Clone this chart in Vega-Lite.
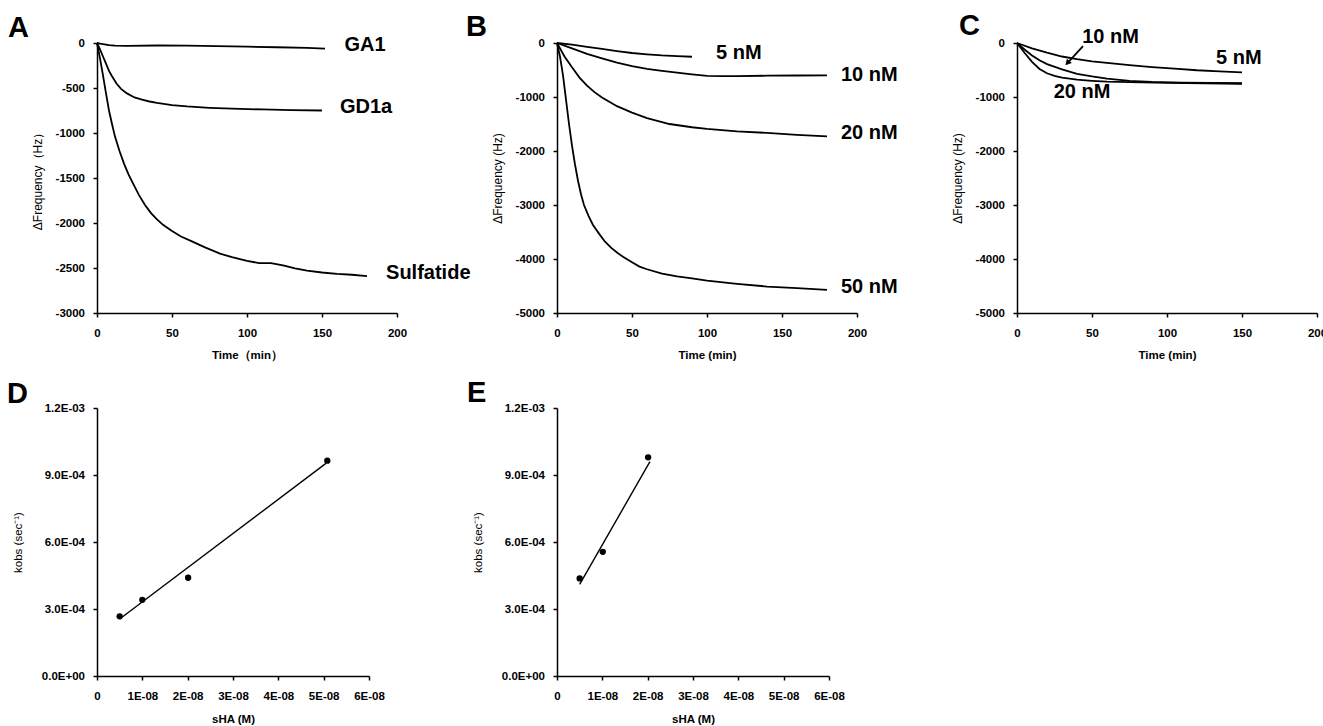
{
  "$schema": "https://vega.github.io/schema/vega-lite/v6.json",
  "background": "white",
  "padding": {"left": 7, "top": 12, "right": 0, "bottom": 0},
  "config": {
    "view": {"stroke": null},
    "font": "Liberation Sans",
    "axis": {"grid": false, "domainColor": "black", "domainWidth": 1.5, "tickColor": "black", "tickWidth": 1.5, "tickSize": 4, "labelFont": "Liberation Sans", "labelFontSize": 11.5, "labelFontWeight": "bold", "labelColor": "black", "titleFont": "Liberation Sans", "titleColor": "black"},
    "axisX": {"labelPadding": 10.5, "titlePadding": 10, "titleFontSize": 11.5, "titleFontWeight": "bold", "labelAngle": 0, "labelFlush": false},
    "axisY": {"labelPadding": 8.5, "titleFontSize": 12, "titleFontWeight": "normal"},
    "title": {"anchor": "start", "frame": "group", "baseline": "alphabetic", "fontSize": 29, "fontWeight": "bold", "font": "Liberation Sans", "color": "black"}
  },
  "datasets": {
    "curvesA": [
      {"s":"GA1","t":0,"v":0},{"s":"GA1","t":2,"v":-6},{"s":"GA1","t":5,"v":-15},{"s":"GA1","t":8,"v":-24},{"s":"GA1","t":12,"v":-30},{"s":"GA1","t":20,"v":-31},{"s":"GA1","t":40,"v":-28},{"s":"GA1","t":60,"v":-29},{"s":"GA1","t":80,"v":-34},{"s":"GA1","t":100,"v":-41},{"s":"GA1","t":120,"v":-47},{"s":"GA1","t":140,"v":-54},{"s":"GA1","t":152,"v":-62},
      {"s":"GD1a","t":0,"v":0},{"s":"GD1a","t":2,"v":-70},{"s":"GD1a","t":4,"v":-150},{"s":"GD1a","t":6,"v":-230},{"s":"GD1a","t":8,"v":-310},{"s":"GD1a","t":10,"v":-370},{"s":"GD1a","t":13,"v":-450},{"s":"GD1a","t":16,"v":-510},{"s":"GD1a","t":20,"v":-560},{"s":"GD1a","t":25,"v":-605},{"s":"GD1a","t":30,"v":-630},{"s":"GD1a","t":35,"v":-650},{"s":"GD1a","t":40,"v":-665},{"s":"GD1a","t":50,"v":-690},{"s":"GD1a","t":60,"v":-705},{"s":"GD1a","t":75,"v":-720},{"s":"GD1a","t":90,"v":-730},{"s":"GD1a","t":110,"v":-738},{"s":"GD1a","t":130,"v":-745},{"s":"GD1a","t":150,"v":-750},
      {"s":"Sulfatide","t":0,"v":0},{"s":"Sulfatide","t":2,"v":-170},{"s":"Sulfatide","t":4,"v":-360},{"s":"Sulfatide","t":6,"v":-560},{"s":"Sulfatide","t":8,"v":-750},{"s":"Sulfatide","t":10,"v":-900},{"s":"Sulfatide","t":12,"v":-1040},{"s":"Sulfatide","t":15,"v":-1200},{"s":"Sulfatide","t":18,"v":-1340},{"s":"Sulfatide","t":21,"v":-1460},{"s":"Sulfatide","t":24,"v":-1560},{"s":"Sulfatide","t":28,"v":-1690},{"s":"Sulfatide","t":32,"v":-1800},{"s":"Sulfatide","t":36,"v":-1890},{"s":"Sulfatide","t":40,"v":-1960},{"s":"Sulfatide","t":44,"v":-2020},{"s":"Sulfatide","t":50,"v":-2090},{"s":"Sulfatide","t":56,"v":-2150},{"s":"Sulfatide","t":64,"v":-2210},{"s":"Sulfatide","t":72,"v":-2270},{"s":"Sulfatide","t":82,"v":-2340},{"s":"Sulfatide","t":90,"v":-2380},{"s":"Sulfatide","t":100,"v":-2420},{"s":"Sulfatide","t":108,"v":-2445},{"s":"Sulfatide","t":116,"v":-2445},{"s":"Sulfatide","t":124,"v":-2470},{"s":"Sulfatide","t":132,"v":-2505},{"s":"Sulfatide","t":140,"v":-2530},{"s":"Sulfatide","t":150,"v":-2550},{"s":"Sulfatide","t":160,"v":-2565},{"s":"Sulfatide","t":170,"v":-2575},{"s":"Sulfatide","t":180,"v":-2590}
    ],
    "labelsA": [
      {"label":"GA1","t":165,"v":-26},
      {"label":"GD1a","t":162,"v":-711},
      {"label":"Sulfatide","t":192.7,"v":-2552}
    ],
    "curvesB": [
      {"s":"5","t":0,"v":0},{"s":"5","t":10,"v":-30},{"s":"5","t":20,"v":-70},{"s":"5","t":30,"v":-110},{"s":"5","t":40,"v":-150},{"s":"5","t":50,"v":-185},{"s":"5","t":60,"v":-210},{"s":"5","t":70,"v":-230},{"s":"5","t":80,"v":-242},{"s":"5","t":90,"v":-255},
      {"s":"10","t":0,"v":0},{"s":"10","t":10,"v":-100},{"s":"10","t":20,"v":-200},{"s":"10","t":30,"v":-285},{"s":"10","t":40,"v":-365},{"s":"10","t":50,"v":-430},{"s":"10","t":60,"v":-480},{"s":"10","t":70,"v":-515},{"s":"10","t":80,"v":-550},{"s":"10","t":90,"v":-580},{"s":"10","t":100,"v":-610},{"s":"10","t":110,"v":-615},{"s":"10","t":120,"v":-612},{"s":"10","t":140,"v":-606},{"s":"10","t":160,"v":-602},{"s":"10","t":180,"v":-600},
      {"s":"20","t":0,"v":0},{"s":"20","t":5,"v":-250},{"s":"20","t":10,"v":-450},{"s":"20","t":15,"v":-640},{"s":"20","t":20,"v":-790},{"s":"20","t":25,"v":-910},{"s":"20","t":30,"v":-1010},{"s":"20","t":40,"v":-1170},{"s":"20","t":50,"v":-1290},{"s":"20","t":60,"v":-1390},{"s":"20","t":75,"v":-1500},{"s":"20","t":90,"v":-1560},{"s":"20","t":100,"v":-1590},{"s":"20","t":120,"v":-1635},{"s":"20","t":140,"v":-1665},{"s":"20","t":160,"v":-1700},{"s":"20","t":180,"v":-1730},
      {"s":"50","t":0,"v":0},{"s":"50","t":2,"v":-250},{"s":"50","t":4,"v":-600},{"s":"50","t":6,"v":-1050},{"s":"50","t":8,"v":-1500},{"s":"50","t":10,"v":-1900},{"s":"50","t":12,"v":-2250},{"s":"50","t":14,"v":-2550},{"s":"50","t":16,"v":-2800},{"s":"50","t":18,"v":-3000},{"s":"50","t":21,"v":-3200},{"s":"50","t":24,"v":-3370},{"s":"50","t":28,"v":-3530},{"s":"50","t":32,"v":-3680},{"s":"50","t":36,"v":-3790},{"s":"50","t":40,"v":-3880},{"s":"50","t":44,"v":-3960},{"s":"50","t":50,"v":-4060},{"s":"50","t":55,"v":-4140},{"s":"50","t":60,"v":-4190},{"s":"50","t":70,"v":-4270},{"s":"50","t":80,"v":-4320},{"s":"50","t":90,"v":-4360},{"s":"50","t":100,"v":-4400},{"s":"50","t":120,"v":-4460},{"s":"50","t":140,"v":-4510},{"s":"50","t":160,"v":-4540},{"s":"50","t":180,"v":-4570}
    ],
    "labelsB": [
      {"label":"5 nM","t":106,"v":-180},
      {"label":"10 nM","t":189.3,"v":-593},
      {"label":"20 nM","t":189.3,"v":-1672},
      {"label":"50 nM","t":189.3,"v":-4519}
    ],
    "curvesC": [
      {"s":"5","t":0,"v":0},{"s":"5","t":10,"v":-100},{"s":"5","t":20,"v":-180},{"s":"5","t":30,"v":-250},{"s":"5","t":40,"v":-300},{"s":"5","t":50,"v":-340},{"s":"5","t":60,"v":-370},{"s":"5","t":75,"v":-410},{"s":"5","t":90,"v":-445},{"s":"5","t":105,"v":-475},{"s":"5","t":120,"v":-505},{"s":"5","t":135,"v":-525},{"s":"5","t":150,"v":-545},
      {"s":"10","t":0,"v":0},{"s":"10","t":5,"v":-120},{"s":"10","t":10,"v":-230},{"s":"10","t":15,"v":-320},{"s":"10","t":20,"v":-390},{"s":"10","t":30,"v":-490},{"s":"10","t":40,"v":-570},{"s":"10","t":50,"v":-620},{"s":"10","t":60,"v":-660},{"s":"10","t":75,"v":-700},{"s":"10","t":90,"v":-720},{"s":"10","t":110,"v":-732},{"s":"10","t":130,"v":-740},{"s":"10","t":150,"v":-745},
      {"s":"20","t":0,"v":0},{"s":"20","t":5,"v":-180},{"s":"20","t":10,"v":-350},{"s":"20","t":15,"v":-480},{"s":"20","t":20,"v":-560},{"s":"20","t":25,"v":-610},{"s":"20","t":30,"v":-640},{"s":"20","t":40,"v":-680},{"s":"20","t":50,"v":-700},{"s":"20","t":60,"v":-715},{"s":"20","t":75,"v":-725},{"s":"20","t":100,"v":-740},{"s":"20","t":125,"v":-745},{"s":"20","t":150,"v":-755}
    ],
    "labelsC": [
      {"label":"10 nM","t":43.5,"v":105},
      {"label":"5 nM","t":132.7,"v":-272},
      {"label":"20 nM","t":24.5,"v":-915}
    ],
    "arrowC": [{"t":44,"v":-56,"t2":33.6,"v2":-371}],
    "pointsD": [{"x":5e-9,"k":0.000267},{"x":1e-8,"k":0.000341},{"x":2.01e-8,"k":0.00044},{"x":5.08e-8,"k":0.000964}],
    "lineD": [{"x":5e-9,"k":0.000255},{"x":5.05e-8,"k":0.000952}],
    "pointsE": [{"x":5e-9,"k":0.000437},{"x":1.01e-8,"k":0.000556},{"x":2.01e-8,"k":0.000979}],
    "lineE": [{"x":5e-9,"k":0.00041},{"x":2.05e-8,"k":0.00096}]
  },
  "concat": [
    {
      "width": 300, "height": 270,
      "title": {"text": "A", "dx": -89, "offset": -8},
      "layer": [
        {"data": {"name": "curvesA"}, "mark": {"type": "line", "color": "black", "strokeWidth": 1.8},
         "encoding": {
           "x": {"field": "t", "type": "quantitative", "scale": {"domain": [0, 200], "nice": false}, "axis": {"values": [0, 50, 100, 150, 200], "title": "Time（min）"}},
           "y": {"field": "v", "type": "quantitative", "scale": {"domain": [-3000, 0], "nice": false}, "axis": {"values": [-3000, -2500, -2000, -1500, -1000, -500, 0], "labelExpr": "datum.value == 0 ? '0' : '-' + format(-datum.value, 'd')", "title": "ΔFrequency（Hz）", "titlePadding": 11}},
           "detail": {"field": "s"}}},
        {"data": {"name": "labelsA"}, "mark": {"type": "text", "align": "left", "baseline": "middle", "fontSize": 20, "fontWeight": "bold", "font": "Liberation Sans", "color": "black"},
         "encoding": {"x": {"field": "t", "type": "quantitative"}, "y": {"field": "v", "type": "quantitative"}, "text": {"field": "label"}}}
      ]
    },
    {
      "width": 300, "height": 270,
      "title": {"text": "B", "dx": -91, "offset": -5},
      "layer": [
        {"data": {"name": "curvesB"}, "mark": {"type": "line", "color": "black", "strokeWidth": 1.8},
         "encoding": {
           "x": {"field": "t", "type": "quantitative", "scale": {"domain": [0, 200], "nice": false}, "axis": {"values": [0, 50, 100, 150, 200], "title": "Time (min)"}},
           "y": {"field": "v", "type": "quantitative", "scale": {"domain": [-5000, 0], "nice": false}, "axis": {"values": [-5000, -4000, -3000, -2000, -1000, 0], "labelExpr": "datum.value == 0 ? '0' : '-' + format(-datum.value, 'd')", "title": "ΔFrequency (Hz)", "titlePadding": 11}},
           "detail": {"field": "s"}}},
        {"data": {"name": "labelsB"}, "mark": {"type": "text", "align": "left", "baseline": "middle", "fontSize": 20, "fontWeight": "bold", "font": "Liberation Sans", "color": "black"},
         "encoding": {"x": {"field": "t", "type": "quantitative"}, "y": {"field": "v", "type": "quantitative"}, "text": {"field": "label"}}}
      ]
    },
    {
      "width": 300, "height": 270,
      "title": {"text": "C", "dx": -58, "offset": -14},
      "layer": [
        {"data": {"name": "curvesC"}, "mark": {"type": "line", "color": "black", "strokeWidth": 1.8},
         "encoding": {
           "x": {"field": "t", "type": "quantitative", "scale": {"domain": [0, 200], "nice": false}, "axis": {"values": [0, 50, 100, 150, 200], "title": "Time (min)"}},
           "y": {"field": "v", "type": "quantitative", "scale": {"domain": [-5000, 0], "nice": false}, "axis": {"values": [-5000, -4000, -3000, -2000, -1000, 0], "labelExpr": "datum.value == 0 ? '0' : '-' + format(-datum.value, 'd')", "title": "ΔFrequency (Hz)", "titlePadding": 11}},
           "detail": {"field": "s"}}},
        {"data": {"name": "arrowC"}, "mark": {"type": "rule", "color": "black", "strokeWidth": 1.8},
         "encoding": {"x": {"field": "t", "type": "quantitative"}, "y": {"field": "v", "type": "quantitative"}, "x2": {"field": "t2"}, "y2": {"field": "v2"}}},
        {"data": {"name": "arrowC"}, "mark": {"type": "point", "shape": "triangle-up", "filled": true, "color": "black", "opacity": 1, "size": 45, "angle": 222},
         "encoding": {"x": {"field": "t2", "type": "quantitative"}, "y": {"field": "v2", "type": "quantitative"}}},
        {"data": {"name": "labelsC"}, "mark": {"type": "text", "align": "left", "baseline": "middle", "fontSize": 20, "fontWeight": "bold", "font": "Liberation Sans", "color": "black"},
         "encoding": {"x": {"field": "t", "type": "quantitative"}, "y": {"field": "v", "type": "quantitative"}, "text": {"field": "label"}}}
      ]
    },
    {
      "width": 272, "height": 268,
      "title": {"text": "D", "dx": -90, "offset": -7},
      "layer": [
        {"data": {"name": "lineD"}, "mark": {"type": "line", "color": "black", "strokeWidth": 1.4},
         "encoding": {
           "x": {"field": "x", "type": "quantitative", "scale": {"domain": [0, 6e-8], "nice": false}, "axis": {"values": [0, 1e-8, 2e-8, 3e-8, 4e-8, 5e-8, 6e-8], "labelExpr": "datum.value == 0 ? '0' : format(datum.value * 1e8, '.0f') + 'E-08'", "title": "sHA (M)", "titlePadding": 11}},
           "y": {"field": "k", "type": "quantitative", "scale": {"domain": [0, 0.0012], "nice": false}, "axis": {"values": [0, 0.0003, 0.0006, 0.0009, 0.0012], "labelExpr": "datum.value == 0 ? '0.0E+00' : datum.value >= 0.001 ? format(datum.value * 1000, '.1f') + 'E-03' : format(datum.value * 10000, '.1f') + 'E-04'", "title": "kobs (sec⁻¹)", "titleFontSize": 11.5, "titlePadding": 18}}}},
        {"data": {"name": "pointsD"}, "mark": {"type": "point", "shape": "circle", "filled": true, "color": "black", "opacity": 1, "size": 40},
         "encoding": {"x": {"field": "x", "type": "quantitative"}, "y": {"field": "k", "type": "quantitative"}}}
      ]
    },
    {
      "width": 272, "height": 268,
      "title": {"text": "E", "dx": -90, "offset": -6},
      "layer": [
        {"data": {"name": "lineE"}, "mark": {"type": "line", "color": "black", "strokeWidth": 1.4},
         "encoding": {
           "x": {"field": "x", "type": "quantitative", "scale": {"domain": [0, 6e-8], "nice": false}, "axis": {"values": [0, 1e-8, 2e-8, 3e-8, 4e-8, 5e-8, 6e-8], "labelExpr": "datum.value == 0 ? '0' : format(datum.value * 1e8, '.0f') + 'E-08'", "title": "sHA (M)", "titlePadding": 11}},
           "y": {"field": "k", "type": "quantitative", "scale": {"domain": [0, 0.0012], "nice": false}, "axis": {"values": [0, 0.0003, 0.0006, 0.0009, 0.0012], "labelExpr": "datum.value == 0 ? '0.0E+00' : datum.value >= 0.001 ? format(datum.value * 1000, '.1f') + 'E-03' : format(datum.value * 10000, '.1f') + 'E-04'", "title": "kobs (sec⁻¹)", "titleFontSize": 11.5, "titlePadding": 18}}}},
        {"data": {"name": "pointsE"}, "mark": {"type": "point", "shape": "circle", "filled": true, "color": "black", "opacity": 1, "size": 40},
         "encoding": {"x": {"field": "x", "type": "quantitative"}, "y": {"field": "k", "type": "quantitative"}}}
      ]
    }
  ],
  "columns": 3,
  "spacing": {"row": 95, "column": 160},
  "bounds": "flush"
}
